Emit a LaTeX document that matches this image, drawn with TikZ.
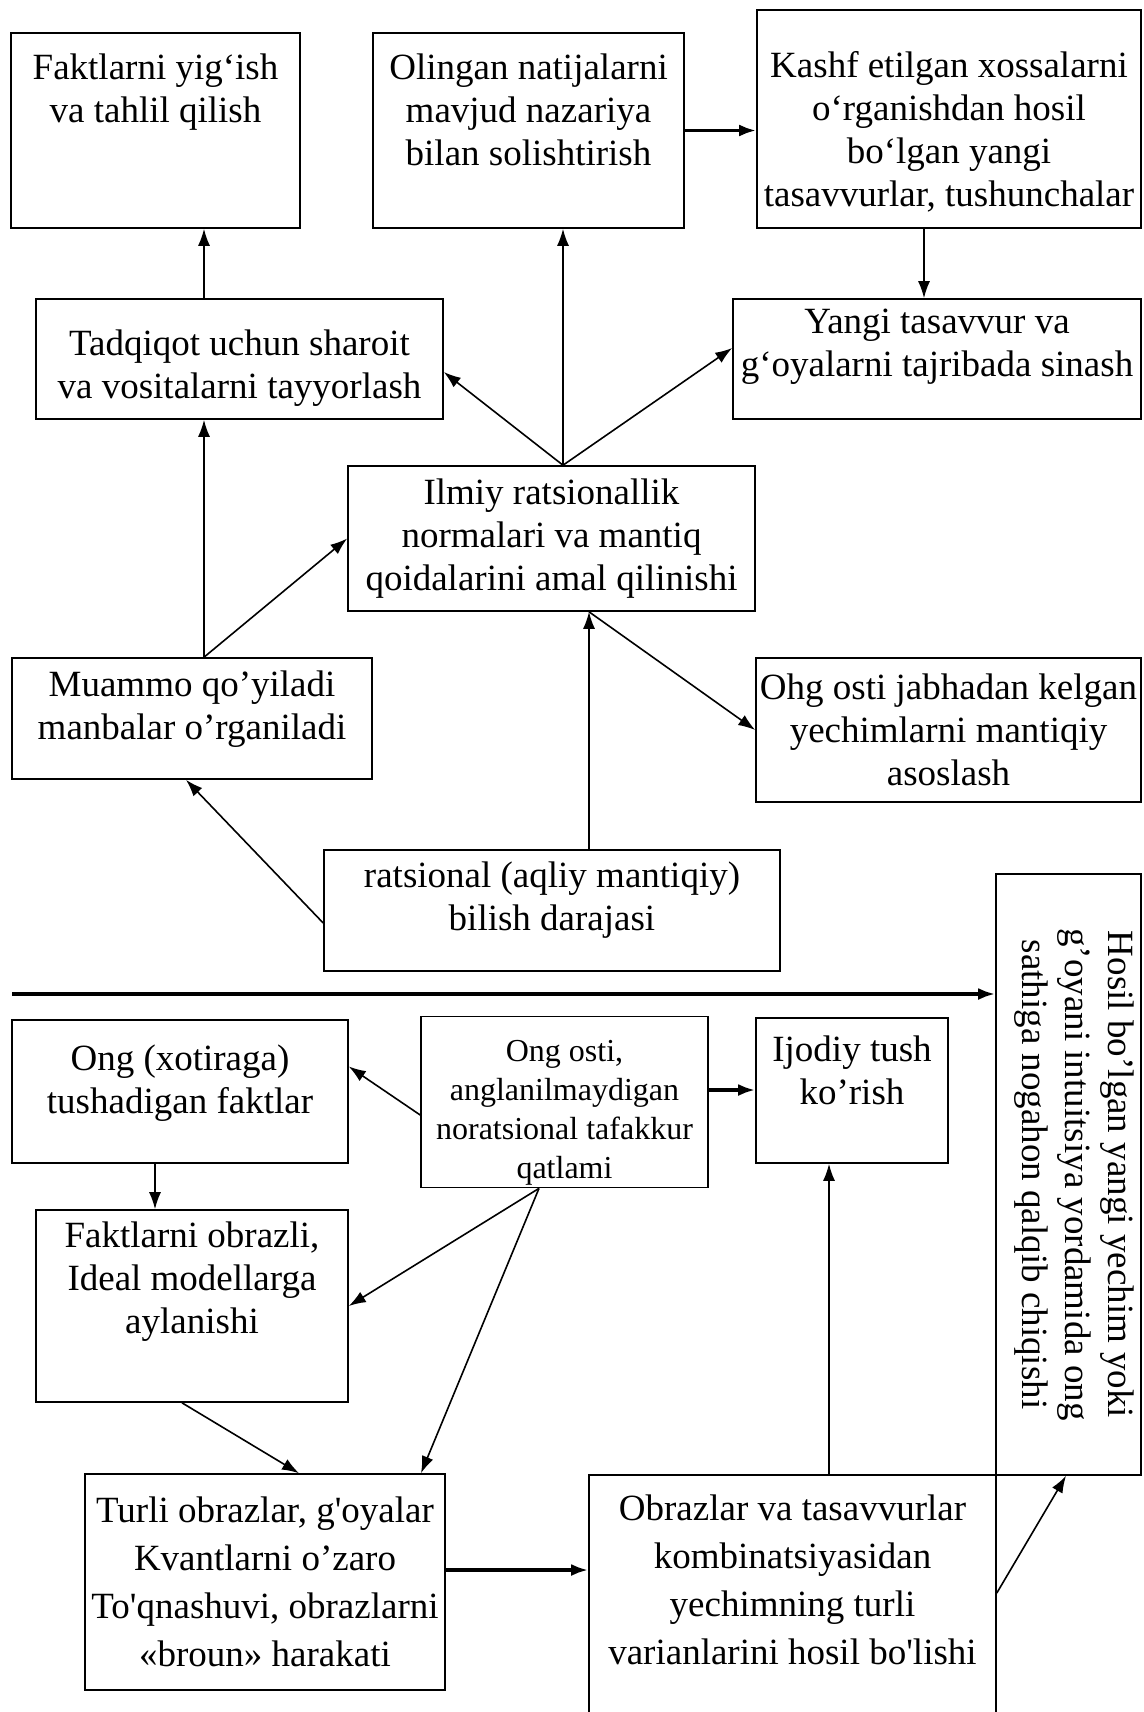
\documentclass[tikz,border=0pt]{standalone}
\usepackage{fontspec}
\setmainfont{Liberation Serif}
\usetikzlibrary{arrows.meta}
\newcommand{\strq}{\textquotesingle}

\begin{document}
\begin{tikzpicture} [
        x=1pt, y=-1pt,
        block/.style={draw, rectangle, line width=1.6pt, align=center, inner sep=2pt,
          font=\fontsize{37}{43}\selectfont},
        smallblock/.style={block, font=\fontsize{32}{39}\selectfont},
        wideblock/.style={block, font=\fontsize{37}{48}\selectfont},
        arr/.style={->, line width=1.6pt},
        heavy/.style={->, line width=3.5pt},
        >={Latex[length=17pt,width=12pt]} ]
    \useasboundingbox (0,0) rectangle (1143,1712);
    \node[block, minimum width=289pt, minimum height=195pt] (fakt) at (155.5,130.5)
        {Faktlarni yig‘ish\\ va tahlil qilish\\ \strut\\[-15pt] \strut};
    \node[block, minimum width=311pt, minimum height=195pt] (natija) at (528.5,130.5)
        {Olingan natijalarni\\ mavjud nazariya\\ bilan solishtirish\\[-15pt] \strut};
    \node[block, minimum width=384pt, minimum height=218pt] (kashf) at (949,119)
        {\strut\\[-21pt] Kashf etilgan xossalarni\\ o‘rganishdan hosil\\ bo‘lgan yangi\\ tasavvurlar, tushunchalar};
    \node[block, minimum width=407pt, minimum height=120pt] (tadqiq) at (239.5,359)
        {\strut\\[-29pt] Tadqiqot uchun sharoit\\ va vositalarni tayyorlash};
    \node[block, minimum width=408pt, minimum height=120pt] (yangi) at (937,359)
        {Yangi tasavvur va\\ g‘oyalarni tajribada sinash\\[-23pt] \strut};
    \node[block, minimum width=407pt, minimum height=145pt] (ilmiy) at (551.5,538.5)
        {Ilmiy ratsionallik\\ normalari va mantiq\\ qoidalarini amal qilinishi};
    \node[block, minimum width=360pt, minimum height=121pt] (muammo) at (192,718.5)
        {Muammo qo’yiladi\\ manbalar o’rganiladi\\[-29pt] \strut};
    \node[block, minimum width=385pt, minimum height=144pt] (ohg) at (948.5,730)
        {Ohg osti jabhadan kelgan\\ yechimlarni mantiqiy\\ asoslash};
    \node[block, minimum width=456pt, minimum height=121pt] (ratsional) at (552,910.5)
        {ratsional (aqliy mantiqiy)\\ bilish darajasi\\[-27pt] \strut};
    \node[block, minimum width=145pt, minimum height=601pt] (hosil) at (1068.5,1174.5)
        {\hspace*{12pt}\rotatebox{-90}{\begin{tabular}{@{}c@{}}Hosil bo’lgan yangi yechim yoki\\
        g’oyani intuitsiya yordamida ong\\ sathiga nogahon qalqib chiqishi\end{tabular}}};
    \node[block, minimum width=336pt, minimum height=143pt] (ong) at (180,1091.5)
        {Ong (xotiraga)\\ tushadigan faktlar\\[-31pt] \strut};
    \node[smallblock, minimum width=287pt, minimum height=168pt] (ongosti) at (564.5,1102)
        {\strut\\[-23pt] Ong osti,\\ anglanilmaydigan\\ noratsional tafakkur\\ qatlami};
    \node[block, minimum width=192pt, minimum height=145pt] (ijodiy) at (852,1090.5)
        {Ijodiy tush\\ ko’rish\\[-15pt] \strut};
    \node[block, minimum width=312pt, minimum height=192pt] (obrazli) at (192,1306)
        {Faktlarni obrazli,\\ Ideal modellarga\\ aylanishi\\ \strut};
    \node[wideblock, minimum width=360pt, minimum height=216pt] (turli) at (265,1582)
        {Turli obrazlar, g\strq oyalar\\ Kvantlarni o’zaro\\ To\strq qnashuvi, obrazlarni\\ «broun» harakati};
    \node[wideblock, minimum width=407pt, minimum height=305pt] (komb) at (792.5,1627.5)
        {Obrazlar va tasavvurlar\\ kombinatsiyasidan\\ yechimning turli\\ varianlarini hosil bo\strq lishi\\ \strut\\[-15pt] \strut};

    \coordinate (t1) at ([xshift=-35.5pt]tadqiq.north);
    \draw (t1) edge[arr] (t1 |- fakt.south);
    \coordinate (m1) at ([xshift=12pt]muammo.north);
    \draw (m1) edge[arr] (m1 |- tadqiq.south);
    \draw (m1) edge[arr] (ilmiy.west);
    \coordinate (i1) at ([xshift=11.5pt]ilmiy.north);
    \draw (i1) edge[arr] (i1 |- natija.south);
    \draw (i1) edge[arr] ([yshift=-13pt]tadqiq.east);
    \draw (i1) edge[arr] ([yshift=11pt]yangi.west);
    \coordinate (k1) at ([xshift=-25pt]kashf.south);
    \draw (k1) edge[arr] (k1 |- yangi.north);
    \draw (natija.east) edge[heavy] (natija.east -| kashf.west);
    \coordinate (r1) at ([xshift=37pt]ratsional.north);
    \draw (r1) edge[arr] (r1 |- ilmiy.south);
    \coordinate (i2) at (r1 |- ilmiy.south);
    \draw (i2) edge[arr] (ohg.west);
    \draw ([yshift=-12.5pt]ratsional.west) edge[arr] ([xshift=-6pt]muammo.south);
    \coordinate (start) at (12,994);
    \draw (start) edge[heavy] (start -| hosil.west);
    \draw ([yshift=-13pt]ongosti.west) edge[arr] ([yshift=25pt]ong.east);
    \coordinate (o1) at ([yshift=12pt]ongosti.east);
    \draw (o1) edge[heavy] (o1 -| ijodiy.west);
    \coordinate (g1) at ([xshift=-25pt]ong.south);
    \draw (g1) edge[arr] (g1 |- obrazli.north);
    \coordinate (o2) at ([xshift=-25.5pt]ongosti.south);
    \draw (o2) edge[arr] (obrazli.east);
    \draw (o2) edge[arr] ([xshift=156pt]turli.north);
    \draw ([xshift=-10pt]obrazli.south) edge[arr] ([xshift=34pt]turli.north);
    \coordinate (t2) at ([yshift=12pt]turli.east);
    \draw (t2) edge[heavy] (t2 -| komb.west);
    \coordinate (p1) at ([xshift=36.5pt]komb.north);
    \draw (p1) edge[arr] (p1 |- ijodiy.south);
    \draw ([yshift=34.5pt]komb.east) edge[arr] ([xshift=-2.5pt]hosil.south);
\end{tikzpicture}
\end{document}
